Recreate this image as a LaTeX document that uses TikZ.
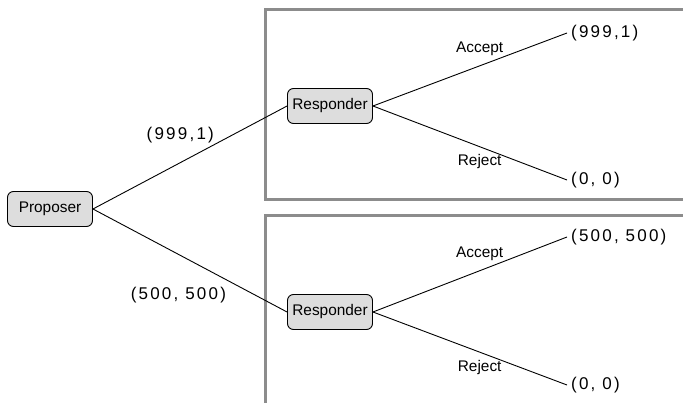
\documentclass[tikz,border=0pt]{standalone}
\usepackage{fontspec}
\setmainfont{Liberation Sans}
\newfontfamily\payfont[LetterSpace=13]{Liberation Sans}
\usepackage{tikz}
\usetikzlibrary{positioning, calc}
\definecolor{framegray}{RGB}{140,140,140}
\definecolor{nodegray}{RGB}{221,221,221}
\tikzset{
  player/.style = {draw=black, rounded corners=6pt, fill=nodegray, line width=0.9pt,
                   inner sep=2pt, minimum height=35pt, minimum width=85pt,
                   font=\fontsize{15.4}{18}\selectfont},
  payoff/.style = {anchor=west, inner sep=4pt, font=\payfont\fontsize{17}{20}\selectfont},
  offer/.style  = {font=\payfont\fontsize{17}{20}\selectfont},
  move/.style   = {font=\fontsize{15.4}{18}\selectfont},
  branch/.style = {draw=black, line width=0.9pt},
  frame/.style  = {draw=framegray, line width=3pt},
}

\begin{document}
\begin{tikzpicture}[x=1pt, y=-1pt]
  \useasboundingbox (0,0) rectangle (683,403);
  \clip (0,0) rectangle (683,403);
  % subgames
  \draw[frame] (265,10) rectangle (720,200);
  \draw[frame] (265,216) rectangle (720,440);
  % players
  \node[player] (prop) at (50,209) {Proposer};
  \node[player] (respA) at (330,106) {Responder};
  \node[player] (respB) at (330,312) {Responder};
  % outcomes
  \node[payoff] (accA) at (567,33) {(999,1)};
  \node[payoff] (rejA) at (567,180) {(0, 0)};
  \node[payoff] (accB) at (567,237) {(500, 500)};
  \node[payoff] (rejB) at (567,385) {(0, 0)};
  % offers
  \draw[branch] (prop.east) -- node[offer, pos=0.45, above=16pt] {(999,1)} (respA.west);
  \draw[branch] (prop.east) -- node[offer, pos=0.44, below=29pt] {(500, 500)} (respB.west);
  % replies
  \draw[branch] (respA.east) -- node[move, pos=0.55, above=6pt] {Accept} (accA.west);
  \draw[branch] (respA.east) -- node[move, pos=0.55, below=4pt] {Reject} (rejA.west);
  \draw[branch] (respB.east) -- node[move, pos=0.55, above=6pt] {Accept} (accB.west);
  \draw[branch] (respB.east) -- node[move, pos=0.55, below=4pt] {Reject} (rejB.west);
\end{tikzpicture}
\end{document}
